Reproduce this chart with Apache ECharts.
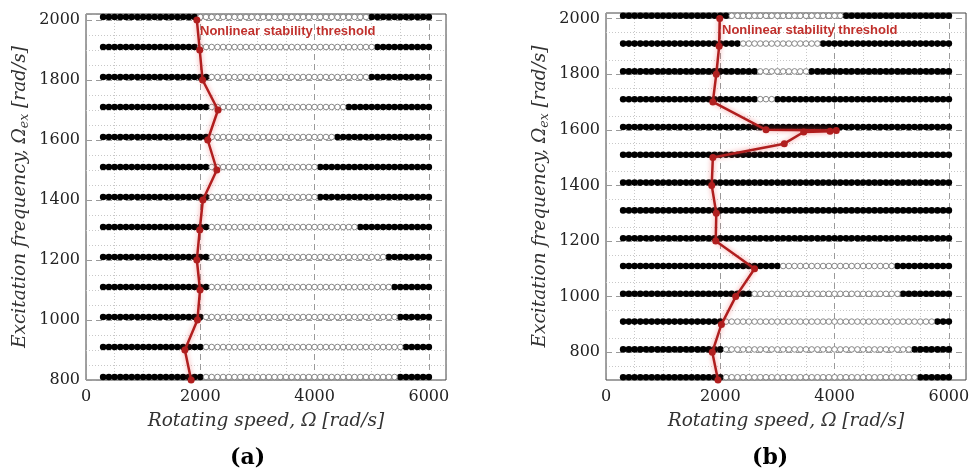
<!DOCTYPE html>
<html>
<head>
<meta charset="utf-8">
<script src="https://cdn.jsdelivr.net/npm/echarts@6/dist/echarts.min.js"></script>
<style>
html,body{margin:0;padding:0;background:#fff;}
#chart{width:973px;height:470px;}
</style>
</head>
<body>
<div id="chart"></div>
<script>
// Rotating speed grid of the simulated points [rad/s]
const speeds = [300,400,500,600,700,800,900,1000,1100,1200,1300,1400,1500,1600,1700,1800,1900,2000,
  2100,2200,2300,2400,2500,2600,2700,2800,2900,3000,3100,3200,3300,3400,3500,3600,3700,3800,3900,4000,
  4100,4200,4300,4400,4500,4600,4700,4800,4900,5000,5100,5200,5300,5400,5500,5600,5700,5800,5900,6000];

// Panel (a): excitation-frequency rows, last stable speed before the unstable band, first stable speed after it
const rowsA = [810,910,1010,1110,1210,1310,1410,1510,1610,1710,1810,1910,2010];
const lowA  = [2000,2000,2000,2100,2100,2100,2100,2100,2100,2100,2100,1900,1900];
const highA = [5500,5600,5500,5400,5300,4800,4100,4100,4400,4600,5000,5100,5000];

// Panel (b)
const rowsB = [710,810,910,1010,1110,1210,1310,1410,1510,1610,1710,1810,1910,2010];
const lowB  = [2000,2000,2000,2500,3000,null,null,null,null,null,2600,2600,2300,2100];
const highB = [5500,5400,5800,5200,5100,null,null,null,null,null,3000,3600,3800,4200];

// Nonlinear stability threshold lines
const threshFreqA  = [2000,1900,1800,1700,1600,1500,1400,1300,1200,1100,1000,900,800];
const threshSpeedA = [1940,1990,2040,2310,2130,2290,2045,1990,1940,1995,1950,1730,1840];
const threshFreqB  = [2000,1900,1800,1700,1600,1597,1595,1592,1550,1500,1400,1300,1200,1100,1000,900,800,700];
const threshSpeedB = [1990,1980,1930,1870,2800,4030,3920,3460,3120,1870,1850,1930,1920,2600,2270,2020,1860,1960];

const xTicks = [0,2000,4000,6000];
const yTicks = [800,1000,1200,1400,1600,1800,2000];

function split(rows, low, high) {
  const filled = [], hollow = [];
  rows.forEach((f, i) => {
    speeds.forEach(s => {
      const unstable = low[i] !== null && s > low[i] && s < high[i];
      (unstable ? hollow : filled).push([s, f]);
    });
  });
  return {filled, hollow};
}
const A = split(rowsA, lowA, highA);
const B = split(rowsB, lowB, highB);
const lineA = threshSpeedA.map((s, i) => [s, threshFreqA[i]]);
const lineB = threshSpeedB.map((s, i) => [s, threshFreqB[i]]);

const serifTick = {fontFamily: 'DejaVu Serif', fontSize: 16, color: '#222'};
const nameStyle = {
  fontFamily: 'DejaVu Serif', fontStyle: 'italic', fontSize: 18.5, color: '#333',
  rich: {sub: {fontFamily: 'DejaVu Serif', fontStyle: 'italic', fontSize: 12.5, color: '#333', verticalAlign: 'bottom', padding: [9, 0, 0, 0]}}
};

function xAxis(idx) {
  return {
    type: 'value', gridIndex: idx, min: 0, max: 6300, interval: 2000,
    axisLine: {show: false}, axisTick: {show: false},
    axisLabel: {...serifTick, margin: 9, formatter: v => xTicks.includes(v) ? String(v) : ''},
    splitLine: {show: true, lineStyle: {color: '#9a9a9a', type: [6, 4], width: 1}},
    minorTick: {show: false, splitNumber: 4},
    minorSplitLine: {show: true, lineStyle: {color: '#c8c8c8', type: [1, 2], width: 1}},
    name: 'Rotating speed, Ω [rad/s]', nameLocation: 'middle', nameGap: 32,
    nameTextStyle: nameStyle
  };
}
function yAxis(idx, min, interval, minorSplit, colors) {
  return {
    type: 'value', gridIndex: idx, min: min, max: 2020, interval: interval,
    axisLine: {show: false}, axisTick: {show: false},
    axisLabel: {...serifTick, margin: 6, formatter: v => yTicks.includes(v) ? String(v) : ''},
    splitLine: {show: true, lineStyle: {color: colors, type: [6, 4], width: 1}},
    minorTick: {show: false, splitNumber: minorSplit},
    minorSplitLine: {show: true, lineStyle: {color: '#c8c8c8', type: [1, 2], width: 1}},
    name: 'Excitation frequency, Ω{sub|ex} [rad/s]', nameLocation: 'middle', nameGap: 55,
    nameTextStyle: nameStyle
  };
}

function dots(data, idx, filled) {
  return {
    type: 'scatter', xAxisIndex: idx, yAxisIndex: idx, data: data, symbol: 'circle',
    symbolSize: filled ? 6.6 : 5.6, silent: true, z: 3,
    itemStyle: filled ? {color: '#000', opacity: 1} : {color: '#fff', borderColor: '#7a7a7a', borderWidth: 0.9, opacity: 1}
  };
}
function thresh(data, idx) {
  return {
    type: 'line', xAxisIndex: idx, yAxisIndex: idx, data: data, symbol: 'circle', symbolSize: 7,
    z: 5, silent: true,
    lineStyle: {color: '#b01e1e', width: 2.5, shadowColor: 'rgba(235,80,80,0.6)', shadowBlur: 5},
    itemStyle: {color: '#b01e1e'}
  };
}

const chart = echarts.init(document.getElementById('chart'), null, {renderer: 'canvas'});
chart.setOption({
  animation: false,
  backgroundColor: '#fff',
  grid: [
    {left: 86, top: 14, width: 360, height: 366, show: true, borderColor: '#444', borderWidth: 1, backgroundColor: 'transparent'},
    {left: 606, top: 13, width: 360, height: 367, show: true, borderColor: '#444', borderWidth: 1, backgroundColor: 'transparent'}
  ],
  xAxis: [xAxis(0), xAxis(1)],
  yAxis: [
    yAxis(0, 800, 200, 4, '#9a9a9a'),
    yAxis(1, 700, 100, 2, ['rgba(0,0,0,0)', '#9a9a9a'])
  ],
  series: [
    dots(A.filled, 0, true), dots(A.hollow, 0, false), thresh(lineA, 0),
    dots(B.filled, 1, true), dots(B.hollow, 1, false), thresh(lineB, 1)
  ],
  graphic: [
    {type: 'text', left: 200, top: 25, z: 10, style: {text: 'Nonlinear stability threshold', fill: '#c0302c', font: 'bold 13px "Liberation Sans", Arial, sans-serif'}},
    {type: 'text', left: 722, top: 24, z: 10, style: {text: 'Nonlinear stability threshold', fill: '#c0302c', font: 'bold 13px "Liberation Sans", Arial, sans-serif'}},
    {type: 'text', left: 230, top: 447, style: {text: '(a)', fill: '#000', font: 'bold 22px "DejaVu Serif", serif'}},
    {type: 'text', left: 752, top: 447, style: {text: '(b)', fill: '#000', font: 'bold 22px "DejaVu Serif", serif'}}
  ]
});
</script>
</body>
</html>
